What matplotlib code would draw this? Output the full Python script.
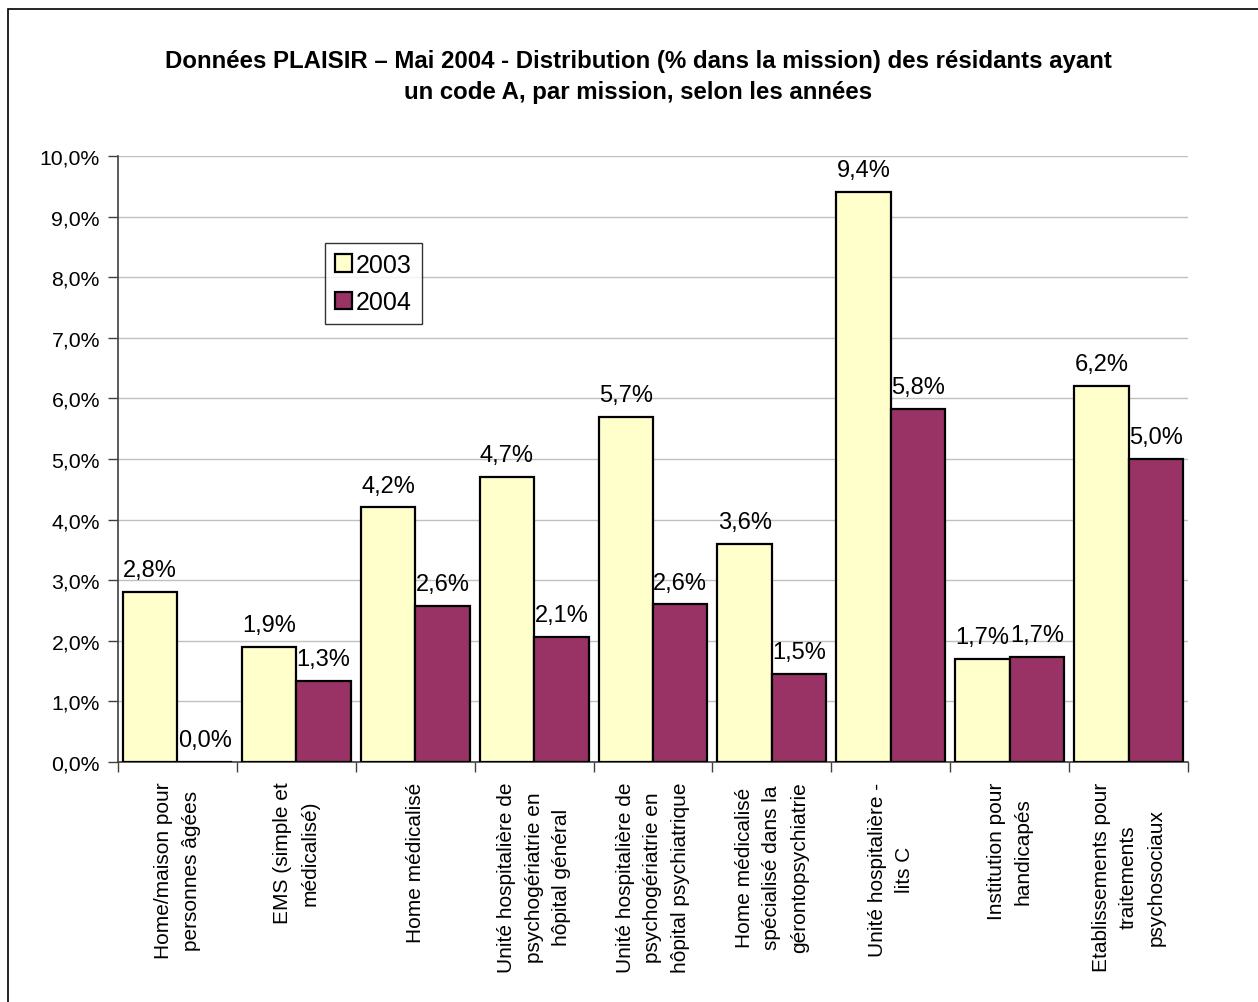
import matplotlib
matplotlib.use("Agg")
import matplotlib.pyplot as plt
import numpy as np
from matplotlib.patches import Rectangle
from matplotlib.ticker import FuncFormatter, MultipleLocator

plt.rcParams["font.family"] = ["Liberation Sans", "DejaVu Sans"]

missions = [
    "Home/maison pour\npersonnes âgées",
    "EMS (simple et\nmédicalisé)",
    "Home médicalisé",
    "Unité hospitalière de\npsychogériatrie en\nhôpital général",
    "Unité hospitalière de\npsychogériatrie en\nhôpital psychiatrique",
    "Home médicalisé\nspécialisé dans la\ngérontopsychiatrie",
    "Unité hospitalière -\nlits C",
    "Institution pour\nhandicapés",
    "Etablissements pour\ntraitements\npsychosociaux",
]
vals_2003 = [2.8, 1.9, 4.2, 4.7, 5.7, 3.6, 9.4, 1.7, 6.2]
vals_2004 = [0.0, 1.33, 2.57, 2.07, 2.6, 1.46, 5.82, 1.73, 5.0]
years = ["2003", "2004"]
colors = ["#FFFFCC", "#993366"]

fig = plt.figure(figsize=(12.58, 10.03), dpi=100)
fig.patches.append(Rectangle((8 / 1258, -0.05), 1.1, 1 - 10 / 1003 + 0.05,
                             transform=fig.transFigure, fill=False,
                             edgecolor="black", linewidth=1.2))
ax = fig.add_axes([118 / 1258, 1 - 763 / 1003, 1070 / 1258, 606 / 1003])

x = np.arange(len(missions))
w = 0.458
for i, (vals, col, lab) in enumerate(zip([vals_2003, vals_2004], colors, years)):
    pos = x - w / 2 + i * w
    bars = ax.bar(pos, vals, width=w, color=col, edgecolor="black",
                  linewidth=1.6, label=lab, zorder=3)
    for b, v in zip(bars, vals):
        ax.text(b.get_x() + b.get_width() / 2, v + 0.18,
                f"{v:.1f}%".replace(".", ","), ha="center", va="bottom",
                fontsize=17)

ax.set_xlim(-0.5, len(missions) - 0.5)
ax.set_ylim(0, 10)
ax.yaxis.set_major_locator(MultipleLocator(1))
ax.yaxis.set_major_formatter(FuncFormatter(lambda v, _: f"{v:.1f}%".replace(".", ",")))
ax.grid(axis="y", color="#c0c0c0", linewidth=1, zorder=0)
ax.set_axisbelow(True)

ax.set_xticks(np.arange(len(missions) + 1) - 0.5)
ax.set_xticklabels([])
ax.set_xticks(x, minor=True)
ax.set_xticklabels(missions, minor=True, rotation=90, ha="center", va="top",
                   multialignment="center", fontsize=15, linespacing=1.55)
ax.tick_params(axis="x", which="minor", length=0, pad=14)
ax.tick_params(axis="x", which="major", length=7, width=1, color="#404040",
               direction="out")
ax.tick_params(axis="y", length=7, width=1, color="#404040", labelsize=15.3,
               pad=6)

for s in ["top", "right"]:
    ax.spines[s].set_visible(False)
for s in ["left", "bottom"]:
    ax.spines[s].set_color("#404040")
    ax.spines[s].set_linewidth(1.2)

leg = ax.legend(loc="upper left", bbox_to_anchor=(0.193, 0.857), fontsize=18,
                frameon=True, fancybox=False, edgecolor="black",
                handlelength=0.7, handleheight=0.7, handletextpad=0.15,
                borderpad=0.4, labelspacing=0.55, borderaxespad=0)
leg.get_frame().set_linewidth(1.0)

fig.text(638 / 1258, 1 - 77 / 1003,
         "Données PLAISIR – Mai 2004 - Distribution (% dans la mission) des résidants ayant\n"
         "un code A, par mission, selon les années",
         ha="center", va="center", fontsize=17.3, fontweight="bold",
         linespacing=1.4)

fig.savefig("out.png", dpi=100)
